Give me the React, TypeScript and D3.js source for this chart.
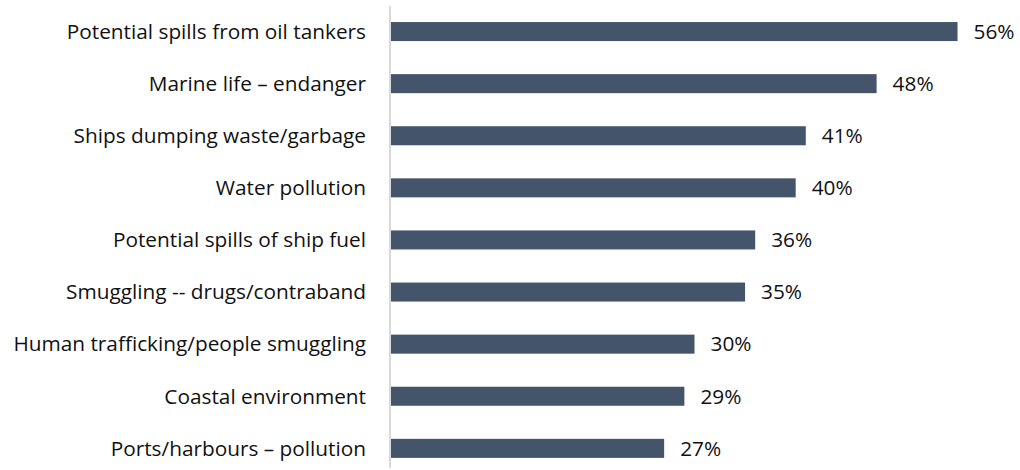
import React, { useEffect, useRef } from 'react';
import * as d3 from 'd3';

const categories = [
  'Potential spills from oil tankers',
  'Marine life – endanger',
  'Ships dumping waste/garbage',
  'Water pollution',
  'Potential spills of ship fuel',
  'Smuggling -- drugs/contraband',
  'Human trafficking/people smuggling',
  'Coastal environment',
  'Ports/harbours – pollution',
];
const values = [56, 48, 41, 40, 36, 35, 30, 29, 27];

const W = 1020;
const H = 470;

const App: React.FC = () => {
  const svgRef = useRef<SVGSVGElement>(null);

  useEffect(() => {
    if (!svgRef.current) return;
    const svg = d3.select(svgRef.current);
    svg.selectAll('*').remove();

    const x = d3.scaleLinear().domain([0, 60]).range([391, 998]);
    const y = d3
      .scaleBand()
      .domain(categories)
      .range([5.5, 474.4])
      .paddingInner(0.635)
      .paddingOuter(0.3175);

    const data = categories.map((c, i) => ({ c, v: values[i] }));

    svg
      .append('g')
      .selectAll('rect')
      .data(data)
      .join('rect')
      .attr('x', x(0))
      .attr('y', d => y(d.c) || 0)
      .attr('width', d => x(d.v) - x(0))
      .attr('height', y.bandwidth())
      .attr('fill', '#44546A');

    svg
      .append('line')
      .attr('x1', 390)
      .attr('x2', 390)
      .attr('y1', 6)
      .attr('y2', 468)
      .attr('stroke', '#d9d9d9')
      .attr('stroke-width', 2);

    const font = '"Open Sans", sans-serif';

    svg
      .append('g')
      .selectAll('text')
      .data(data)
      .join('text')
      .attr('x', 366)
      .attr('y', d => (y(d.c) || 0) + y.bandwidth() / 2)
      .attr('dy', '0.35em')
      .attr('text-anchor', 'end')
      .attr('font-family', font)
      .attr('font-size', 20.8)
      .attr('fill', '#111')
      .text(d => d.c);

    svg
      .append('g')
      .selectAll('text')
      .data(data)
      .join('text')
      .attr('x', d => x(d.v) + 16)
      .attr('y', d => (y(d.c) || 0) + y.bandwidth() / 2)
      .attr('dy', '0.35em')
      .attr('font-family', font)
      .attr('font-size', 20.8)
      .attr('fill', '#111')
      .text(d => `${d.v}%`);
  }, []);

  return (
    <svg
      ref={svgRef}
      width={W}
      height={H}
      style={{ position: 'absolute', left: 0, top: 0, background: '#fff' }}
    />
  );
};

export default App;
